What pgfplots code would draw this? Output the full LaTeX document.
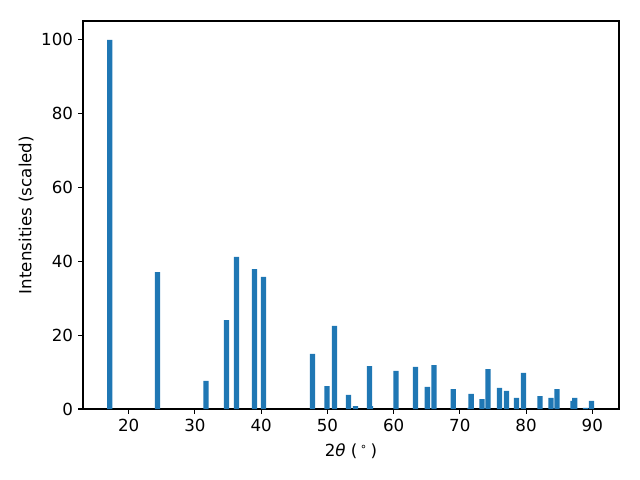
\documentclass[border=0pt]{standalone}
\usepackage{pgfplots}
\pgfplotsset{compat=1.18}
\usepackage{fontspec}
\setmainfont{DejaVu Sans}
\definecolor{mplblue}{HTML}{1F77B4}
\begin{document}
\begin{tikzpicture}
\useasboundingbox (-59.76pt,-51.12pt) rectangle (401.04pt,294.48pt);
\begin{axis}[
  at={(0,0)}, anchor=south west,
  scale only axis,
  width=385.92pt, height=279.36pt,
  xmin=13.1, xmax=94.03,
  ymin=0, ymax=105.1,
  xtick={20,30,...,90},
  ytick={0,20,...,100},
  tick align=outside,
  major tick length=3.5pt,
  axis line style={line width=0.8pt},
  every tick/.style={black, line width=0.8pt},
  xtick pos=bottom, ytick pos=left,
  /pgf/number format/assume math mode=true,
  tick label style={font=\fontsize{12}{14}\selectfont},
  yticklabel style={inner sep=0pt, xshift=-3.5pt},
  xticklabel style={inner sep=0pt, yshift=-3.5pt},
  every axis y label/.style={at={(axis description cs:-0.1063,0.5)}, anchor=center, rotate=90, font=\fontsize{12}{14}\selectfont},
  every axis x label/.style={at={(axis description cs:0.5,-0.108)}, anchor=center, font=\fontsize{12}{14}\selectfont},
  xlabel={2\textit{θ} (\,\textsuperscript{∘}\,)},
  ylabel={Intensities (scaled)},
]
\addplot[ybar, bar width=0.8, bar shift=0pt, fill=mplblue, draw=none] coordinates {
(17.15,100)
(24.35,37.1)
(31.67,7.6)
(34.77,24.1)
(36.28,41.2)
(39.0,37.9)
(40.35,35.8)
(47.75,14.9)
(49.94,6.2)
(51.07,22.5)
(53.19,3.8)
(54.25,0.8)
(56.5,0.8)
(56.36,11.6)
(60.36,10.3)
(63.3,11.4)
(65.1,6.0)
(66.1,11.9)
(69.0,5.4)
(71.55,0.3)
(71.7,4.1)
(73.35,2.7)
(74.25,10.8)
(76.0,5.7)
(77.04,4.9)
(78.55,3.0)
(79.6,9.8)
(82.1,3.5)
(83.76,3.0)
(84.67,5.4)
(87.1,2.2)
(87.35,3.0)
(88.97,0.3)
(89.88,2.2)
};
\end{axis}
\end{tikzpicture}
\end{document}
